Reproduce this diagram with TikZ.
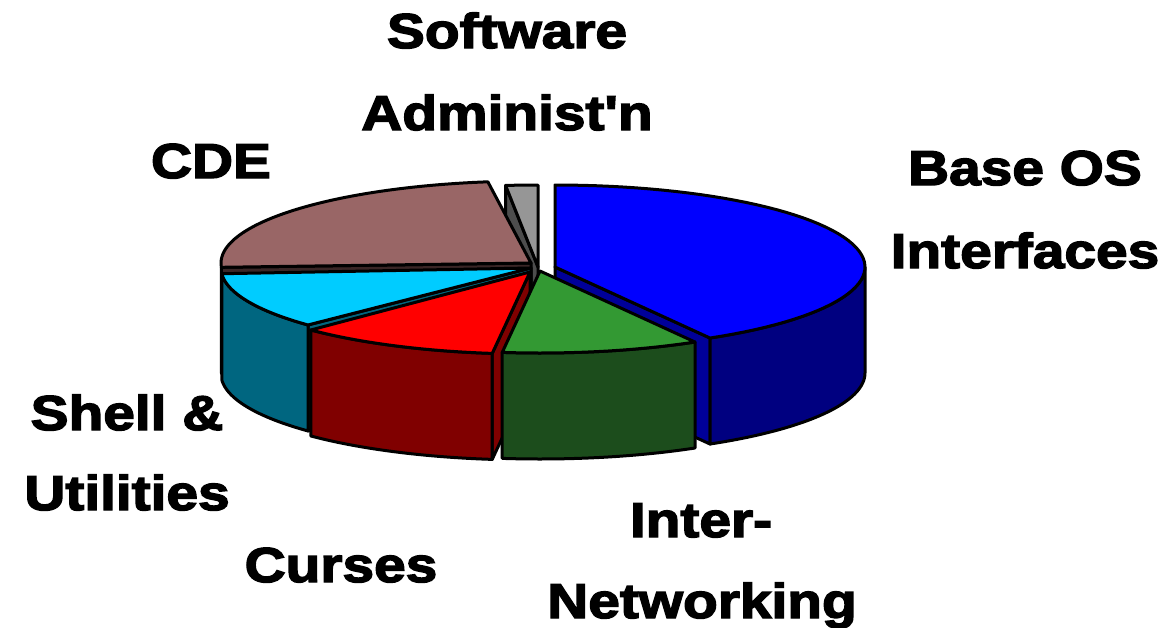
\documentclass[tikz,border=0pt]{standalone}
\usepackage{fontspec}
\newfontfamily\lblfont{Liberation Sans Bold}[FakeStretch=1.16,FakeBold=3]
\definecolor{bluetop}{HTML}{0000FF}
\definecolor{blueside}{HTML}{000080}
\definecolor{blueface}{HTML}{000099}
\definecolor{greentop}{HTML}{339933}
\definecolor{greenside}{HTML}{1C4D1C}
\definecolor{redtop}{HTML}{FF0000}
\definecolor{redside}{HTML}{800000}
\definecolor{cyantop}{HTML}{00CCFF}
\definecolor{cyanside}{HTML}{006680}
\definecolor{cdetop}{HTML}{996666}
\definecolor{cdeface}{HTML}{3A2626}
\definecolor{graytop}{HTML}{969696}
\definecolor{grayface}{HTML}{4D4D4D}
\def\pieRX{310}
\def\pieRY{82}
\def\pieDP{106}
% top face: apex x, apex y, start angle, end angle, colour
\newcommand\pieTop[5]{\filldraw[pieline,fill=#5] (#1,#2) -- plot[domain=#3:#4,samples=60] ({#1+\pieRX*cos(\x)},{#2+\pieRY*sin(\x)}) -- cycle;}
% outer side: apex x, apex y, start angle, end angle, colour
\newcommand\pieSide[5]{\filldraw[pieline,fill=#5] plot[domain=#3:#4,samples=50] ({#1+\pieRX*cos(\x)},{#2+\pieRY*sin(\x)}) -- plot[domain=#4:#3,samples=50] ({#1+\pieRX*cos(\x)},{#2+\pieDP+\pieRY*sin(\x)}) -- cycle;}
% radial face: apex x, apex y, angle, colour
\newcommand\pieFace[4]{\filldraw[pieline,fill=#4] (#1,#2) -- ({#1+\pieRX*cos(#3)},{#2+\pieRY*sin(#3)}) -- ({#1+\pieRX*cos(#3)},{#2+\pieDP+\pieRY*sin(#3)}) -- (#1,{#2+\pieDP}) -- cycle;}
\tikzset{
  pieline/.style={draw=black,line width=3pt,line join=round},
  lbl/.style={font=\lblfont\fontsize{49}{58}\selectfont,anchor=base,inner sep=0pt}
}
\begin{document}
\begin{tikzpicture}[x=1pt,y=-1pt]
\fill[white] (0,0) rectangle (1168,627);
\useasboundingbox (0,0) rectangle (1168,627);
% Software Administ'n (grey)
\pieFace{538}{267}{264}{grayface}
\pieTop{538}{267}{264}{270}{graytop}
% CDE
\pieFace{531}{263}{177}{cdeface}
\pieTop{531}{263}{177}{262}{cdetop}
% Base OS Interfaces (blue)
\pieFace{555}{267}{60}{blueface}
\pieSide{555}{267}{0}{60}{blueside}
\pieTop{555}{267}{-90}{60}{bluetop}
% Shell & Utilities
\pieFace{531}{268}{136}{cyanside}
\pieSide{531}{268}{136}{176}{cyanside}
\pieTop{531}{268}{136}{176}{cyantop}
% Curses
\pieFace{530}{272}{97}{redside}
\pieSide{530}{272}{97}{135}{redside}
\pieTop{530}{272}{97}{135}{redtop}
% Inter-Networking
\pieSide{540}{271}{60}{97}{greenside}
\pieTop{540}{271}{60}{97}{greentop}
% labels
\node[lbl] (sw) at (507,48) {Software};
\node[lbl] (adm) at (507,130) {Administ'n};
\node[lbl] (cde) at (211,178) {CDE};
\node[lbl] (base) at (1025,185) {Base OS};
\node[lbl] (intf) at (1025,268) {Interfaces};
\node[lbl] (shell) at (127,430) {Shell \&};
\node[lbl] (util) at (127,510) {Utilities};
\node[lbl] (curs) at (341,582) {Curses};
\node[lbl] (inter) at (701,537) {Inter-};
\node[lbl] (net) at (702,618) {Networking};
\end{tikzpicture}
\end{document}
